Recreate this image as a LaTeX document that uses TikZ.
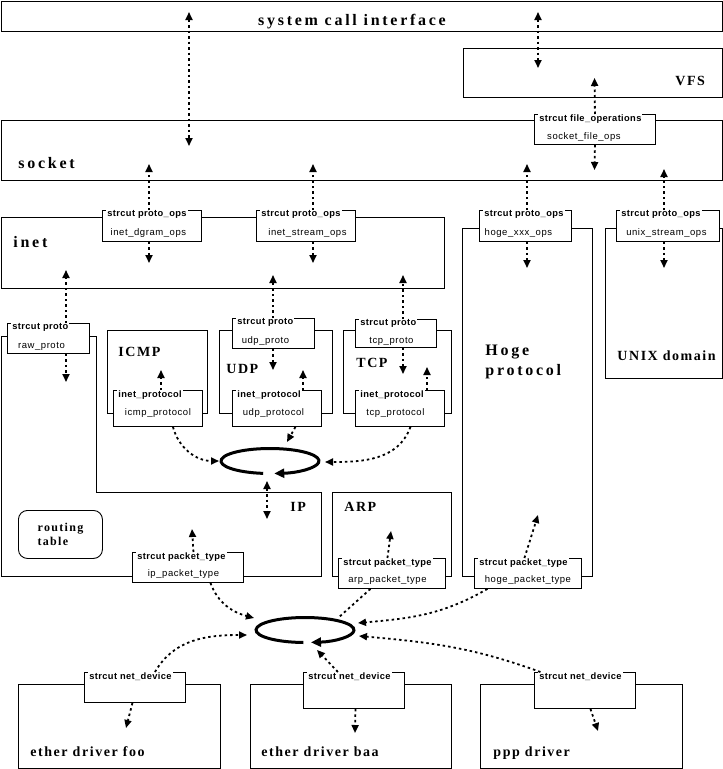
\documentclass[tikz,border=0pt]{standalone}
\usepackage{fontspec}
\usepackage{tikz}
\usetikzlibrary{arrows.meta,positioning}
\newfontfamily\bigfont[LetterSpace=17]{Liberation Serif}
\newfontfamily\midfont[LetterSpace=11]{Liberation Serif}
\newfontfamily\smallfont[LetterSpace=6]{Liberation Sans}
\newfontfamily\headfont[LetterSpace=4]{Liberation Sans}

\begin{document}
\begin{tikzpicture}[
    x=1pt, y=-1pt,
    line width=0.9pt,
    dims/.style 2 args={minimum width=#1pt, minimum height=#2pt},
    layer/.style={draw, rectangle, anchor=north west, inner sep=0pt},
    rtable/.style={draw, rectangle, rounded corners=9pt, anchor=north west, inner sep=0pt,
        align=left, font=\midfont\bfseries\fontsize{12}{14}\selectfont},
    structbox/.style={draw, fill=white, rectangle, anchor=north west, inner sep=0pt},
    structhead/.style={fill=white, anchor=north west, inner xsep=1pt, inner ysep=1.5pt,
        font=\headfont\bfseries\fontsize{9.3}{10}\selectfont},
    structname/.style={anchor=base, inner sep=0pt, font=\smallfont\fontsize{9.5}{10}\selectfont},
    biglabel/.style={anchor=base west, inner sep=0pt, font=\bigfont\bfseries\fontsize{16}{19}\selectfont},
    modlabel/.style={anchor=base west, inner sep=0pt, font=\midfont\bfseries\fontsize{14}{16}\selectfont},
    link/.style={line width=1.8pt, dash pattern=on 2.5pt off 3pt, -{Triangle[width=7pt,length=8pt]}},
    duallink/.style={link, {Triangle[width=7pt,length=8pt]}-{Triangle[width=7pt,length=8pt]}},
    plainlink/.style={line width=1.8pt, dash pattern=on 2.5pt off 3pt},
    ring/.style={line width=3pt, -{Triangle[width=9pt,length=10pt]}}
]
\useasboundingbox (0,0) rectangle (723,769);

% Layers
\node[layer, dims={721.5}{30}] (syscall) at (0.5,0.5) {};
\node[layer, dims={259}{49}] (vfs) at (463,48) {};
\node[layer, dims={721.5}{60}] (socket) at (0.5,120) {};
\node[layer, dims={443.5}{71}] (inet) at (0.5,217) {};
\node[layer, dims={130}{348}] (hoge) at (462,228) {};
\node[layer, dims={117}{150}] (unix) at (605,228) {};
\draw (1,336) -- (96,336) -- (96,492) -- (321,492) -- (321,576) -- (1,576) -- cycle;
\node[layer, dims={100}{83}] (icmp) at (107,330) {};
\node[layer, dims={113}{83}] (udp) at (219,330) {};
\node[layer, dims={108}{83}] (tcp) at (343,330) {};
\node[layer, dims={119}{84}] (arp) at (332,492) {};
\node[rtable, dims={84}{48}] (rtab) at (18,510) {routing\\table};
\node[layer, dims={202}{84}] (foo) at (18,684) {};
\node[layer, dims={201}{84}] (baa) at (250,684) {};
\node[layer, dims={202}{84}] (ppp) at (480,684) {};

% Layer names
\node[biglabel, anchor=base] (syscall-t) at (352,25) {system call interface};
\node[modlabel] (vfs-t) at (675,85) {VFS};
\node[biglabel] (socket-t) at (18,168) {socket};
\node[biglabel] (inet-t) at (13,247) {inet};
\node[biglabel] (hoge-t1) at (485,355) {Hoge};
\node[biglabel] (hoge-t2) at (485,375) {protocol};
\node[modlabel] (unix-t) at (617,360) {UNIX domain};
\node[modlabel] (icmp-t) at (118,356) {ICMP};
\node[modlabel] (udp-t) at (226,373) {UDP};
\node[modlabel] (tcp-t) at (356,367) {TCP};
\node[modlabel] (ip-t) at (290,511) {IP};
\node[modlabel] (arp-t) at (344,511) {ARP};
\node[modlabel] (foo-t) at (30,756) {ether driver foo};
\node[modlabel] (baa-t) at (261,756) {ether driver baa};
\node[modlabel] (ppp-t) at (493,756) {ppp driver};

% Structures
\node[structbox, dims={121}{30}] (fops) at (534,114) {};
\node[structhead] (fops-h) at ([xshift=4pt,yshift=1.5pt]fops.north west) {strcut file\_operations};
\node[structname] (fops-n) at ([xshift=-11pt,yshift=-25pt]fops.north) {socket\_file\_ops};

\node[structbox, dims={99}{31}] (dgram) at (102,210) {};
\node[structhead] (dgram-h) at ([xshift=4pt,yshift=1.5pt]dgram.north west) {strcut proto\_ops};
\node[structname] (dgram-n) at ([xshift=-3.5pt,yshift=-25pt]dgram.north) {inet\_dgram\_ops};

\node[structbox, dims={99}{31}] (stream) at (256,210) {};
\node[structhead] (stream-h) at ([xshift=4pt,yshift=1.5pt]stream.north west) {strcut proto\_ops};
\node[structname] (stream-n) at ([xshift=1.5pt,yshift=-25pt]stream.north) {inet\_stream\_ops};

\node[structbox, dims={92}{31}] (hogeops) at (479,210) {};
\node[structhead] (hogeops-h) at ([xshift=4pt,yshift=1.5pt]hogeops.north west) {strcut proto\_ops};
\node[structname] (hogeops-n) at ([xshift=-7pt,yshift=-25pt]hogeops.north) {hoge\_xxx\_ops};

\node[structbox, dims={103}{31}] (unixops) at (616,210) {};
\node[structhead] (unixops-h) at ([xshift=4pt,yshift=1.5pt]unixops.north west) {strcut proto\_ops};
\node[structname] (unixops-n) at ([xshift=-1.5pt,yshift=-25pt]unixops.north) {unix\_stream\_ops};

\node[structbox, dims={82}{30}] (rawp) at (7,323) {};
\node[structhead] (rawp-h) at ([xshift=4pt,yshift=1.5pt]rawp.north west) {strcut proto};
\node[structname] (rawp-n) at ([xshift=-7pt,yshift=-25pt]rawp.north) {raw\_proto};

\node[structbox, dims={82}{30}] (udpp) at (232,318) {};
\node[structhead] (udpp-h) at ([xshift=4pt,yshift=1.5pt]udpp.north west) {strcut proto};
\node[structname] (udpp-n) at ([xshift=-8pt,yshift=-25pt]udpp.north) {udp\_proto};

\node[structbox, dims={81}{28}] (tcpp) at (355,319) {};
\node[structhead] (tcpp-h) at ([xshift=4pt,yshift=1.5pt]tcpp.north west) {strcut proto};
\node[structname] (tcpp-n) at ([xshift=-4.5pt,yshift=-24pt]tcpp.north) {tcp\_proto};

\node[structbox, dims={89}{36}] (icmpi) at (113,390) {};
\node[structhead] (icmpi-h) at ([xshift=4pt,yshift=1.5pt]icmpi.north west) {inet\_protocol};
\node[structname] (icmpi-n) at ([yshift=-25pt]icmpi.north) {icmp\_protocol};

\node[structbox, dims={89}{36}] (udpi) at (232,390) {};
\node[structhead] (udpi-h) at ([xshift=4pt,yshift=1.5pt]udpi.north west) {inet\_protocol};
\node[structname] (udpi-n) at ([xshift=-3.5pt,yshift=-25pt]udpi.north) {udp\_protocol};

\node[structbox, dims={89}{36}] (tcpi) at (355,390) {};
\node[structhead] (tcpi-h) at ([xshift=4pt,yshift=1.5pt]tcpi.north west) {inet\_protocol};
\node[structname] (tcpi-n) at ([xshift=-4.5pt,yshift=-25pt]tcpi.north) {tcp\_protocol};

\node[structbox, dims={111}{30}] (ippt) at (132,552) {};
\node[structhead] (ippt-h) at ([xshift=4pt,yshift=1.5pt]ippt.north west) {strcut packet\_type};
\node[structname] (ippt-n) at ([xshift=-4.5pt,yshift=-24pt]ippt.north) {ip\_packet\_type};

\node[structbox, dims={107}{30}] (arppt) at (338,558) {};
\node[structhead] (arppt-h) at ([xshift=4pt,yshift=1.5pt]arppt.north west) {strcut packet\_type};
\node[structname] (arppt-n) at ([xshift=-4.5pt,yshift=-24pt]arppt.north) {arp\_packet\_type};

\node[structbox, dims={107}{30}] (hogept) at (474,558) {};
\node[structhead] (hogept-h) at ([xshift=4pt,yshift=1.5pt]hogept.north west) {strcut packet\_type};
\node[structname] (hogept-n) at ([yshift=-24pt]hogept.north) {hoge\_packet\_type};

\node[structbox, dims={101}{30}] (nd1) at (84,672) {};
\node[structhead] (nd1-h) at ([xshift=4pt,yshift=1.5pt]nd1.north west) {strcut net\_device};
\node[structbox, dims={101}{36}] (nd2) at (303,672) {};
\node[structhead] (nd2-h) at ([xshift=4pt,yshift=1.5pt]nd2.north west) {strcut net\_device};
\node[structbox, dims={101}{36}] (nd3) at (534,672) {};
\node[structhead] (nd3-h) at ([xshift=4pt,yshift=1.5pt]nd3.north west) {strcut net\_device};

% Rings
\coordinate (c1) at (270,461);
\coordinate (c2) at (305,630);
\draw[ring] ([shift={(262:49pt and 12.5pt)}]c1) arc[start angle=262, end angle=-85, x radius=49pt, y radius=12.5pt];
\draw[ring] ([shift={(268:49pt and 12.5pt)}]c2) arc[start angle=268, end angle=-83, x radius=49pt, y radius=12.5pt];

% Arrows between layers
\coordinate (sc-top) at (189,12);
\coordinate (sc-bot) at (189,146);
\draw[duallink] (sc-top) -- (sc-bot);
\coordinate (sv-top) at (538,12);
\coordinate (sv-bot) at (538,68);
\draw[duallink] (sv-top) -- (sv-bot);

\coordinate (fops-up) at (594.5,78);
\coordinate (fops-dn) at (594.5,170);
\draw[link] (fops.north) -- (fops-up);
\draw[link] (fops.south) -- (fops-dn);

\coordinate (dgram-up) at (149,164);
\coordinate (dgram-dn) at (149,263);
\draw[link] (dgram.north -| dgram-up) -- (dgram-up);
\draw[link] (dgram.south -| dgram-dn) -- (dgram-dn);

\coordinate (stream-up) at (313,164);
\coordinate (stream-dn) at (313,263);
\draw[link] (stream.north -| stream-up) -- (stream-up);
\draw[link] (stream.south -| stream-dn) -- (stream-dn);

\coordinate (hogeops-up) at (527,164);
\coordinate (hogeops-dn) at (527,268);
\draw[link] (hogeops.north -| hogeops-up) -- (hogeops-up);
\draw[link] (hogeops.south -| hogeops-dn) -- (hogeops-dn);

\coordinate (unixops-up) at (664,169);
\coordinate (unixops-dn) at (664,268);
\draw[link] (unixops.north -| unixops-up) -- (unixops-up);
\draw[link] (unixops.south -| unixops-dn) -- (unixops-dn);

\coordinate (rawp-up) at (66,270);
\coordinate (rawp-dn) at (66,382);
\draw[link] (rawp.north -| rawp-up) -- (rawp-up);
\draw[link] (rawp.south -| rawp-dn) -- (rawp-dn);

\coordinate (udpp-up) at (273,275);
\coordinate (udpp-dn) at (273,370);
\draw[link] (udpp.north -| udpp-up) -- (udpp-up);
\draw[link] (udpp.south -| udpp-dn) -- (udpp-dn);

\coordinate (tcpp-up) at (403,275);
\coordinate (tcpp-dn) at (403,374);
\draw[link] (tcpp.north -| tcpp-up) -- (tcpp-up);
\draw[link] (tcpp.south -| tcpp-dn) -- (tcpp-dn);

\coordinate (icmpi-up) at (161,370);
\coordinate (udpi-up) at (303,370);
\coordinate (tcpi-up) at (427,367);
\draw[link] (icmpi.north -| icmpi-up) -- (icmpi-up);
\draw[link] (udpi.north -| udpi-up) -- (udpi-up);
\draw[link] (tcpi.north -| tcpi-up) -- (tcpi-up);

% Arrows to the IP ring
\coordinate (r1-icmp) at (219,461);
\coordinate (r1-udp) at (287,442);
\coordinate (r1-tcp) at (325,462);
\draw[link] ([xshift=15pt]icmpi.south) to[out=-75, in=180] (r1-icmp);
\draw[link] ([xshift=18.5pt]udpi.south) -- (r1-udp);
\draw[link] ([xshift=10.5pt]tcpi.south) to[out=-110, in=0] (r1-tcp);
\coordinate (r1-up) at (267,481);
\coordinate (ip-dn) at (267,519);
\draw[duallink] (r1-up) -- (ip-dn);

% Packet types
\coordinate (ip-in) at (192,529);
\coordinate (arp-in) at (391,531);
\coordinate (hoge-in) at (538,515);
\draw[link] ([xshift=5.5pt]ippt.north) -- (ip-in);
\draw[link] ([xshift=-4.5pt]arppt.north) -- (arp-in);
\draw[link] ([xshift=-3.5pt]hogept.north) -- (hoge-in);

% Arrows to the device ring
\coordinate (r2-ip) at (254,618);
\coordinate (r2-arp) at (338,618);
\coordinate (r2-hoge) at (358,623);
\coordinate (r2-foo) at (247,635);
\coordinate (r2-baa) at (317,650);
\coordinate (r2-ppp) at (359,636);
\draw[link] ([xshift=22.5pt]ippt.south) to[out=-70, in=165] (r2-ip);
\draw[plainlink] ([xshift=-21.5pt]arppt.south) -- (r2-arp);
\draw[link] ([xshift=-40.5pt]hogept.south) to[out=-150, in=5] (r2-hoge);
\draw[link] ([xshift=20pt]nd1.north) to[out=60, in=180] (r2-foo);
\draw[link] ([xshift=-16pt]nd2.north) -- (r2-baa);
\draw[link] ([xshift=-44.5pt]nd3.north) to[out=160, in=-5] (r2-ppp);

% Drivers
\coordinate (foo-in) at (126,728);
\coordinate (baa-in) at (355,733);
\coordinate (ppp-in) at (598,731);
\draw[link] ([xshift=-2.5pt]nd1.south) -- (foo-in);
\draw[link] ([xshift=1.5pt]nd2.south) -- (baa-in);
\draw[link] ([xshift=5.5pt]nd3.south) -- (ppp-in);

\end{tikzpicture}
\end{document}
